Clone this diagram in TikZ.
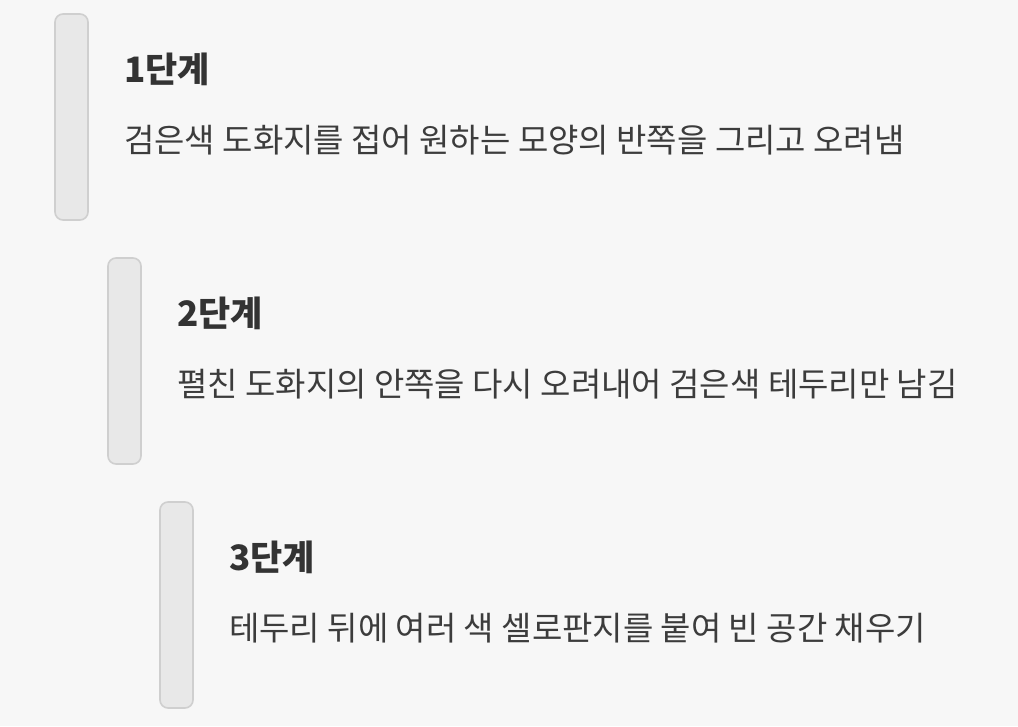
\documentclass[tikz,border=0pt]{standalone}
\usepackage{fontspec}
\setmainfont{Noto Sans CJK KR}[BoldFont={Noto Sans CJK KR Black}]
\definecolor{bgc}{HTML}{F7F7F7}
\definecolor{barfill}{HTML}{E8E8E8}
\definecolor{barline}{HTML}{CFCFCF}
\definecolor{titlec}{HTML}{333333}
\definecolor{bodyc}{HTML}{3C3C3C}
\tikzset{
  bar/.style={fill=barfill,draw=barline,line width=1.6pt,rounded corners=8pt},
  steptitle/.style={anchor=base west,inner sep=0pt,text=titlec,font=\fontsize{35}{42}\selectfont\bfseries},
  stepbody/.style={anchor=base west,inner sep=0pt,text=bodyc,font=\fontsize{33}{40}\selectfont}
}
\begin{document}
\begin{tikzpicture}[x=1pt,y=-1pt]
\fill[bgc] (0,0) rectangle (1018,726);
\useasboundingbox (0,0) rectangle (1018,726);
% step 1
\draw[bar] (55,14) rectangle (88,220);
\node[steptitle] (t1) at (124,82) {1단계};
\node[stepbody] (b1) at (124,152) {검은색 도화지를 접어 원하는 모양의 반쪽을 그리고 오려냄};
% step 2
\draw[bar] (108,258) rectangle (141,464);
\node[steptitle] (t2) at (177,326) {2단계};
\node[stepbody] (b2) at (177,396) {펼친 도화지의 안쪽을 다시 오려내어 검은색 테두리만 남김};
% step 3
\draw[bar] (160,502) rectangle (193,708);
\node[steptitle] (t3) at (229,570) {3단계};
\node[stepbody] (b3) at (229,640) {테두리 뒤에 여러 색 셀로판지를 붙여 빈 공간 채우기};
\end{tikzpicture}
\end{document}
